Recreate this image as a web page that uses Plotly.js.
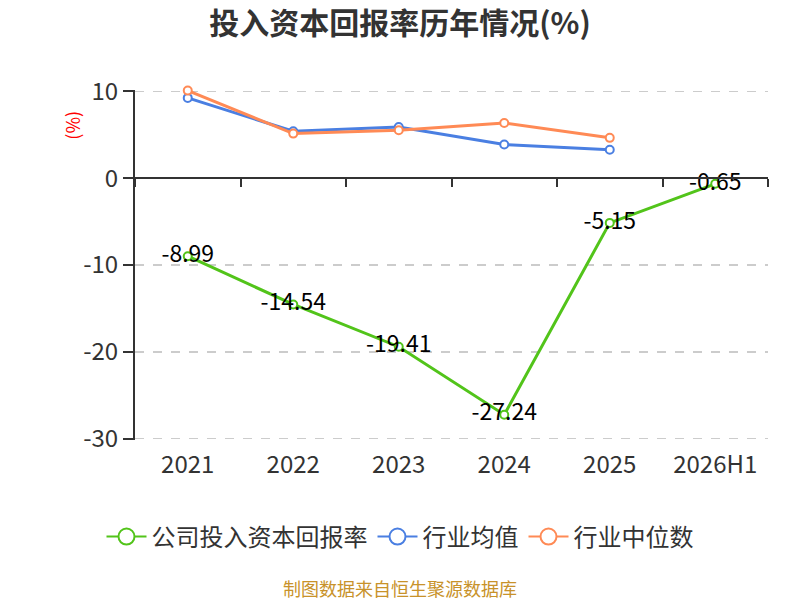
<!DOCTYPE html>
<html>
<head>
<meta charset="utf-8">
<script src="https://cdn.plot.ly/plotly-3.0.1.min.js"></script>
<style>
  body { margin: 0; background: #fff; }
  #chart { width: 800px; height: 600px; }
</style>
</head>
<body>
<div id="chart"></div>
<script>
// categories and values
var years = ['2021', '2022', '2023', '2024', '2025', '2026H1'];
var companyRoic = [-8.99, -14.54, -19.41, -27.24, -5.15, -0.65];
var industryAvg = [9.24, 5.4, 5.89, 3.88, 3.27];
var industryMedian = [10.08, 5.13, 5.51, 6.35, 4.64];
var yTicks = [10, 0, -10, -20, -30];
var yTickText = ['10', '0', '-10', '-20', '-30'];

var fontFamily = '"Noto Sans CJK SC", "Noto Sans", sans-serif';
var colors = { company: '#52c41a', avg: '#4a7fe2', median: '#ff8a55' };
// horizontal centre of the page, as a fraction of the plot width
var pageCentre = (400 - 135) / 633;

function lineTrace(y, color, withText) {
  var t = {
    x: years.slice(0, y.length),
    y: y,
    type: 'scatter',
    mode: withText ? 'lines+markers+text' : 'lines+markers',
    line: { color: color, width: 3 },
    marker: { symbol: 'circle', size: 8, color: '#fff', line: { color: color, width: 2 } },
    showlegend: false,
    cliponaxis: false
  };
  if (withText) {
    t.text = y.map(function(v) { return v.toFixed(2); });
    t.textposition = 'middle center';
    t.textfont = { family: fontFamily, size: 23, color: '#000' };
  }
  return t;
}

// legend-only traces so the legend symbols can be big
function legendTrace(name, color, rank) {
  return {
    x: [years[0]],
    y: [null],
    name: name,
    type: 'scatter',
    mode: 'lines+markers',
    line: { color: color, width: 2 },
    marker: { symbol: 'circle', size: 16, color: '#fff', line: { color: color, width: 2 } },
    legendrank: rank,
    hoverinfo: 'skip'
  };
}

var traces = [
  lineTrace(industryAvg, colors.avg, false),
  lineTrace(industryMedian, colors.median, false),
  lineTrace(companyRoic, colors.company, true),
  legendTrace('公司投入资本回报率', colors.company, 1),
  legendTrace('行业均值', colors.avg, 2),
  legendTrace('行业中位数', colors.median, 3),
  // empty trace on xaxis2 so the zero-line axis with its ticks is drawn
  { x: years, y: years.map(function() { return null; }), xaxis: 'x2', showlegend: false, hoverinfo: 'skip', mode: 'lines' }
];

var layout = {
  width: 800,
  height: 600,
  margin: { l: 135, r: 32, t: 90, b: 160, autoexpand: false },
  paper_bgcolor: '#fff',
  plot_bgcolor: '#fff',
  font: { family: fontFamily, color: '#333' },
  title: {
    text: '<b>投入资本回报率历年情况(%)</b>',
    font: { family: fontFamily, size: 30, color: '#333' },
    x: 0.5, xanchor: 'center',
    y: 1 - 23 / 600, yanchor: 'middle'
  },
  showlegend: true,
  legend: {
    orientation: 'h',
    x: pageCentre, xanchor: 'center',
    y: -0.277, yanchor: 'middle',
    font: { family: fontFamily, size: 24, color: '#333' },
    itemwidth: 40
  },
  xaxis: {
    type: 'category',
    categoryorder: 'array',
    categoryarray: years,
    range: [-0.5, 5.5],
    showline: false,
    showgrid: false,
    zeroline: false,
    ticks: '',
    tickangle: 0,
    tickfont: { family: fontFamily, size: 24, color: '#333' },
    ticklabelstandoff: 8
  },
  xaxis2: {
    type: 'category',
    overlaying: 'x',
    matches: 'x',
    anchor: 'free',
    position: 30.15 / 40.3,
    side: 'bottom',
    showline: true,
    linecolor: '#333',
    linewidth: 2,
    ticks: 'outside',
    tickson: 'boundaries',
    ticklen: 8,
    tickwidth: 2,
    tickcolor: '#333',
    showticklabels: false,
    showgrid: false,
    zeroline: false
  },
  yaxis: {
    // a hair wider than -30..10 so the end grid lines are kept
    range: [-30.15, 10.15],
    tickmode: 'array',
    tickvals: yTicks,
    ticktext: yTickText,
    showline: true,
    linecolor: '#333',
    linewidth: 2,
    ticks: 'outside',
    ticklen: 10,
    tickwidth: 2,
    tickcolor: '#333',
    showgrid: true,
    gridcolor: '#cccccc',
    griddash: 'dash',
    gridwidth: 1.5,
    zeroline: false,
    tickfont: { family: fontFamily, size: 24, color: '#333' }
  },
  annotations: [
    {
      text: '(%)',
      xref: 'paper', yref: 'paper',
      x: -0.1, y: 0.9,
      xanchor: 'center', yanchor: 'middle',
      textangle: -90,
      showarrow: false,
      font: { family: fontFamily, size: 18, color: '#ff0000' }
    },
    {
      text: '制图数据来自恒生聚源数据库',
      xref: 'paper', yref: 'paper',
      x: pageCentre, y: -0.423,
      xanchor: 'center', yanchor: 'middle',
      showarrow: false,
      font: { family: fontFamily, size: 18, color: '#c8922a' }
    }
  ]
};

Plotly.newPlot('chart', traces, layout, { displayModeBar: false, staticPlot: true });
</script>
</body>
</html>
